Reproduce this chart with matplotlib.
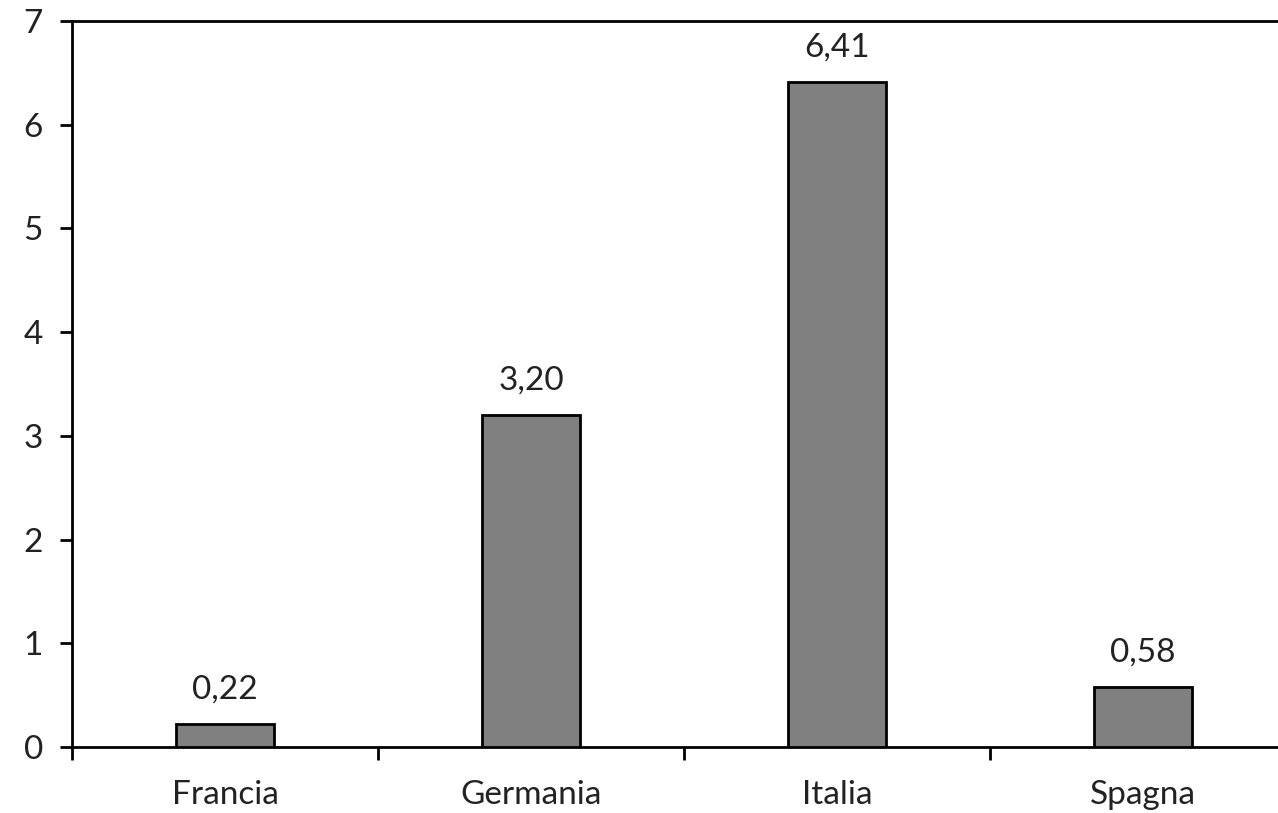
import matplotlib
matplotlib.use("Agg")
import matplotlib.pyplot as plt
import numpy as np

categories = ["Francia", "Germania", "Italia", "Spagna"]
values = [0.22, 3.20, 6.41, 0.58]
value_labels = ["0,22", "3,20", "6,41", "0,58"]
yticks = [0, 1, 2, 3, 4, 5, 6, 7]

plt.rcParams['font.family'] = ['Lato', 'DejaVu Sans']

W, H = 1278, 813
fig = plt.figure(figsize=(W/100, H/100), dpi=100)
left, right = 72/W, 1296/W
bottom, top = 1 - 747/H, 1 - 21/H
ax = fig.add_axes([left, bottom, right-left, top-bottom])

x = np.arange(len(categories))
ax.bar(x, values, width=0.32, color="#808080", edgecolor="black", linewidth=2.0, zorder=3)
for xi, v, lab in zip(x, values, value_labels):
    ax.annotate(lab, (xi, v), xytext=(0, 14), textcoords="offset points",
                ha="center", va="bottom", fontsize=24, color="#222222")

ax.set_xlim(-0.5, len(categories) - 0.5)
ax.set_ylim(0, 7)
ax.set_yticks(yticks)
ax.set_yticklabels([str(t) for t in yticks], fontsize=24, color="#222222")
ax.set_xticks(x)
ax.set_xticklabels(categories, fontsize=24, color="#222222")
ax.tick_params(axis="x", length=0, pad=24)
ax.set_xticks(np.arange(len(categories)) - 0.5, minor=True)
ax.tick_params(axis="x", which="minor", length=9, width=2, direction="out")
ax.tick_params(axis="y", length=9, width=2, direction="out", pad=12)

for s in ["left", "bottom", "top"]:
    ax.spines[s].set_linewidth(2)
    ax.spines[s].set_color("black")
ax.spines["right"].set_visible(False)

fig.savefig("out.png", dpi=100)
